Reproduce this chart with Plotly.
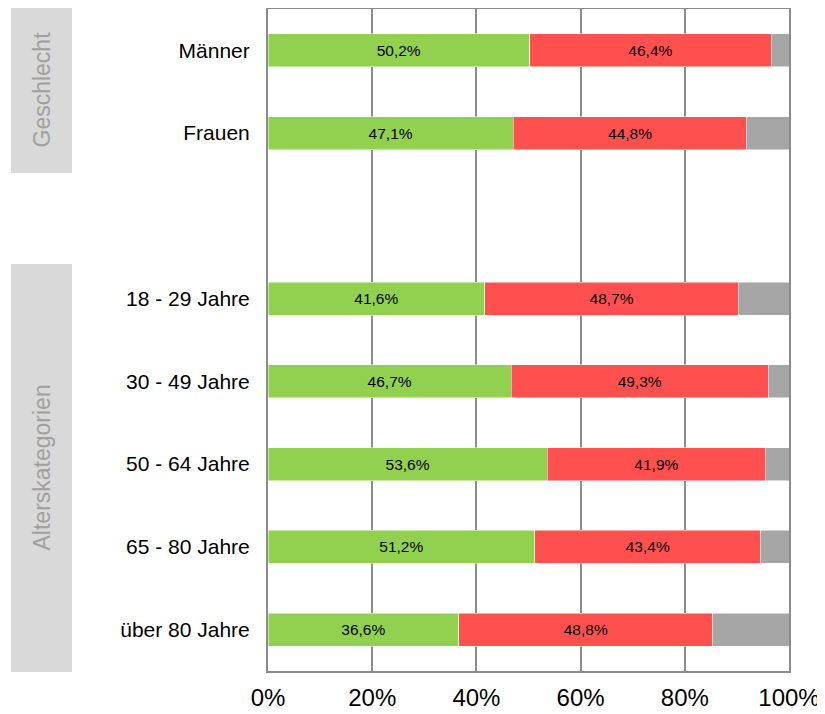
import plotly.graph_objects as go

categories = ["Männer", "Frauen", " ", "18 - 29 Jahre", "30 - 49 Jahre",
              "50 - 64 Jahre", "65 - 80 Jahre", "über 80 Jahre"]
green_vals = [50.2, 47.1, None, 41.6, 46.7, 53.6, 51.2, 36.6]
red_vals = [46.4, 44.8, None, 48.7, 49.3, 41.9, 43.4, 48.8]
gray_vals = [3.4, 8.1, None, 9.7, 4.0, 4.5, 5.4, 14.6]
x_ticks = [0, 20, 40, 60, 80, 100]
x_tick_labels = ["0%", "20%", "40%", "60%", "80%", "100%"]
group_labels = ["Geschlecht", "Alterskategorien"]

FONT = "Liberation Sans, Arial, sans-serif"

# page has an 8px body margin; figure sized to fit inside the window
W, H = 817, 706
L, R, T, B = 260, 36, 1, 43
PW, PH = W - L - R, H - T - B

fig = go.Figure()
for vals, color, show in [(green_vals, "#92D050", True),
                          (red_vals, "#FF5050", True),
                          (gray_vals, "#A6A6A6", False)]:
    fig.add_trace(go.Bar(
        x=vals, y=categories, orientation="h", width=0.4,
        marker=dict(color=color, line=dict(color="white", width=0.5)),
        texttemplate="%{x:.1f}%" if show else None,
        textposition="inside" if show else "none",
        insidetextanchor="middle",
        textfont=dict(family=FONT, size=15.5, color="#000000"),
        hoverinfo="skip",
        showlegend=False,
    ))

fig.update_layout(
    barmode="stack",
    width=W, height=H,
    margin=dict(l=L, r=R, t=T, b=B),
    paper_bgcolor="white", plot_bgcolor="white",
    separators=",.",
    font=dict(family=FONT),
    xaxis=dict(range=[0, 100], tickmode="array", tickvals=x_ticks,
               ticktext=x_tick_labels,
               showgrid=True, gridcolor="#8C8C8C", gridwidth=2,
               showline=True, linecolor="#8C8C8C", linewidth=2, mirror=True,
               zeroline=False, ticks="outside", ticklen=4, tickcolor="white",
               tickfont=dict(family=FONT, size=24, color="#000000"),
               automargin=False, fixedrange=True),
    yaxis=dict(categoryorder="array", categoryarray=categories, type="category",
               range=[7.5, -0.5], showgrid=False,
               showline=True, linecolor="#8C8C8C", linewidth=2, mirror=True,
               ticks="outside", ticklen=12, tickcolor="white",
               tickfont=dict(family=FONT, size=21, color="#000000"),
               automargin=False, fixedrange=True),
)

# grey group boxes with rotated labels (page pixel extents converted to paper)
def px(x):
    return (x - 8 - L) / PW

def py(y):
    return (H - B - (y - 8)) / PH

boxes = [(7, 173), (264, 672)]
for (y0, y1), label in zip(boxes, group_labels):
    fig.add_shape(type="rect", xref="paper", yref="paper",
                  x0=px(11), x1=px(72), y0=py(y1), y1=py(y0),
                  fillcolor="#D9D9D9", line=dict(width=0), layer="below")
    fig.add_annotation(xref="paper", yref="paper",
                       x=px(41.5), y=py((y0 + y1) / 2),
                       xanchor="center", yanchor="middle",
                       text=label, textangle=-90, showarrow=False,
                       font=dict(family=FONT, size=23, color="#A0A0A0"))

fig.write_html("out.html")
